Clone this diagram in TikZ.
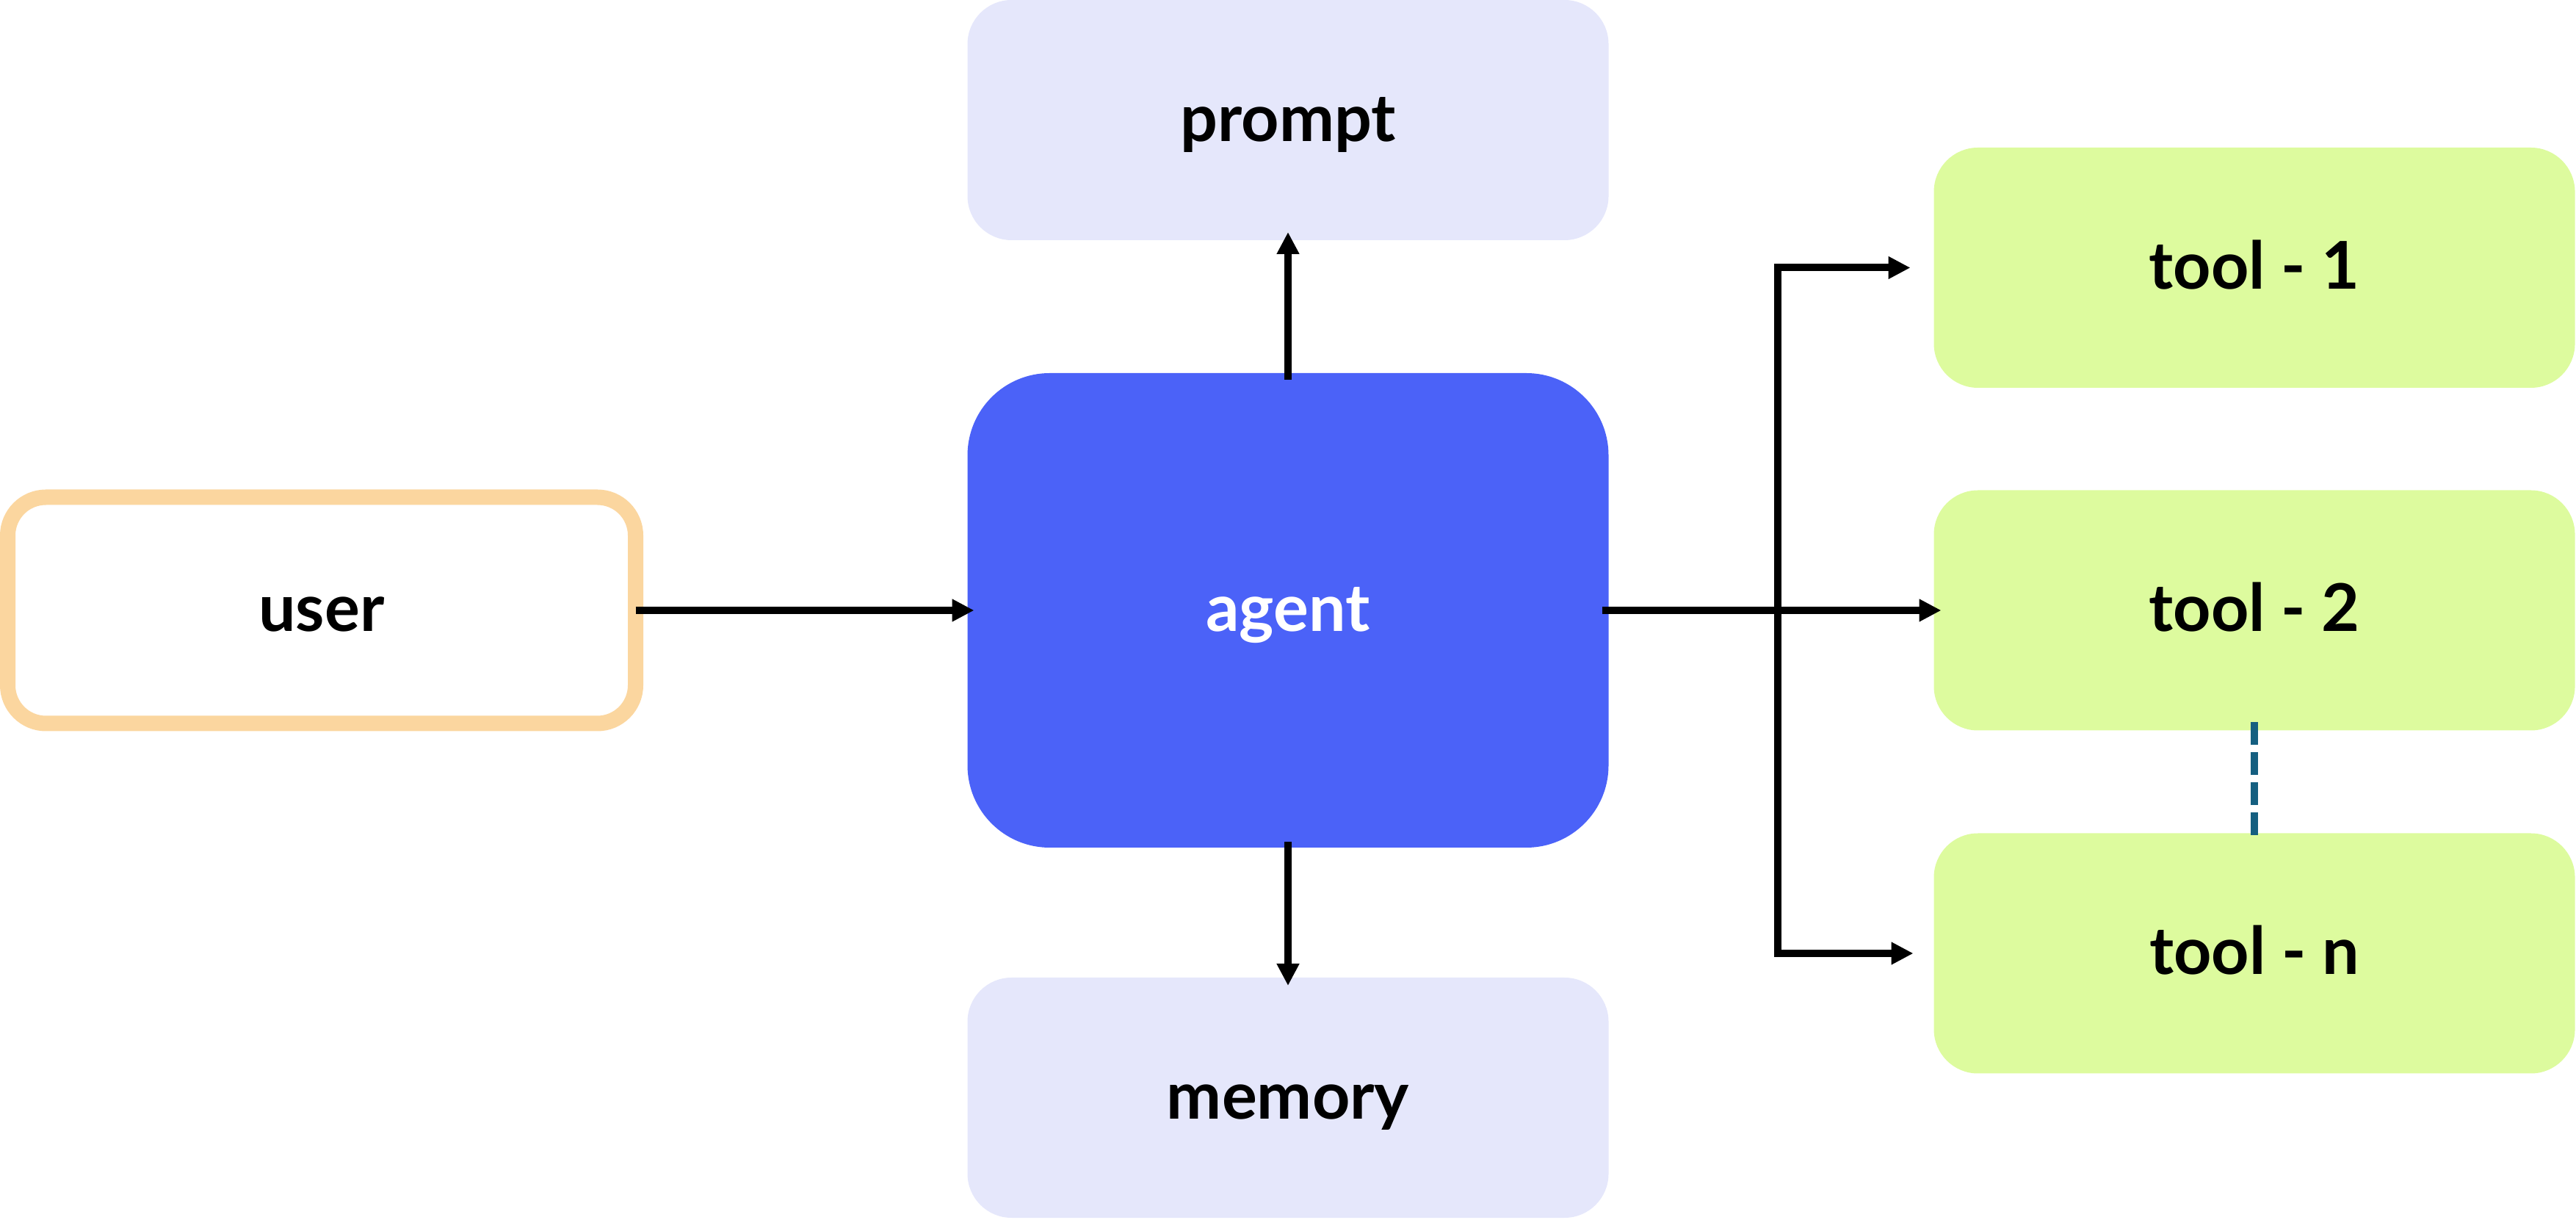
\documentclass[tikz,border=0pt]{standalone}
\usepackage{fontspec}
\setmainfont{Lato}
\usetikzlibrary{arrows.meta,positioning}

\definecolor{userline}{HTML}{FBD69F}
\definecolor{lavender}{HTML}{E5E7FB}
\definecolor{agentblue}{HTML}{4B62F8}
\definecolor{toolgreen}{HTML}{DDFB9E}
\definecolor{dashblue}{HTML}{155F80}

\tikzset{
	box/.style={inner sep=0pt, outer sep=0pt, minimum width=8.73cm, minimum height=3.27cm,
		rounded corners=0.6cm, text height=0.8cm, text depth=0.22cm,
		font=\fontsize{25.5}{30}\selectfont\bfseries},
	side/.style={box, fill=lavender},
	toolbox/.style={box, fill=toolgreen},
	link/.style={line width=0.1cm, -{Triangle[length=0.3cm,width=0.29cm]}}
}

\begin{document}
\begin{tikzpicture}
		\useasboundingbox (0,0) rectangle (35.08,16.60);
		\node[box, draw=userline, fill=white, line width=0.21cm, minimum width=8.55cm,
			minimum height=3.08cm, rounded corners=0.52cm] (user) at (4.38,8.29) {user};
		\node[box, fill=agentblue, text=white, minimum height=6.46cm, rounded corners=1.12cm] (agent) at (17.54,8.29) {agent};
		\node[side] (prompt) at (17.54,14.965) {prompt};
		\node[side] (memory) at (17.54,1.655) {memory};
		\node[toolbox] (tool1) at (30.70,12.955) {tool - 1};
		\node[toolbox] (tool2) at (30.70,8.29) {tool - 2};
		\node[toolbox] (tooln) at (30.70,3.62) {tool - n};
		\coordinate (fork) at (24.21,8.29);
		% arrows
		\draw[link, shorten >=-0.09cm] (user.east) -- (agent.west);
		\draw[link, shorten <=-0.09cm, shorten >=-0.11cm] (agent.north) -- (prompt.south);
		\draw[link, shorten <=-0.08cm, shorten >=-0.11cm] (agent.south) -- (memory.north);
		\draw[link, shorten <=-0.09cm, shorten >=-0.1cm] (agent.east) -- (tool2.west);
		\draw[line width=0.1cm, {Triangle[length=0.3cm,width=0.29cm]}-{Triangle[length=0.3cm,width=0.29cm]},
			shorten <=0.32cm, shorten >=0.28cm]
			(tool1.west) -- (tool1.west -| fork) -- (tooln.west -| fork) -- (tooln.west);
		\draw[dashblue, line width=0.1cm, dash pattern=on 0.31cm off 0.1cm,
			shorten <=-0.11cm, shorten >=-0.05cm] (tool2.south) -- (tooln.north);
\end{tikzpicture}
\end{document}
